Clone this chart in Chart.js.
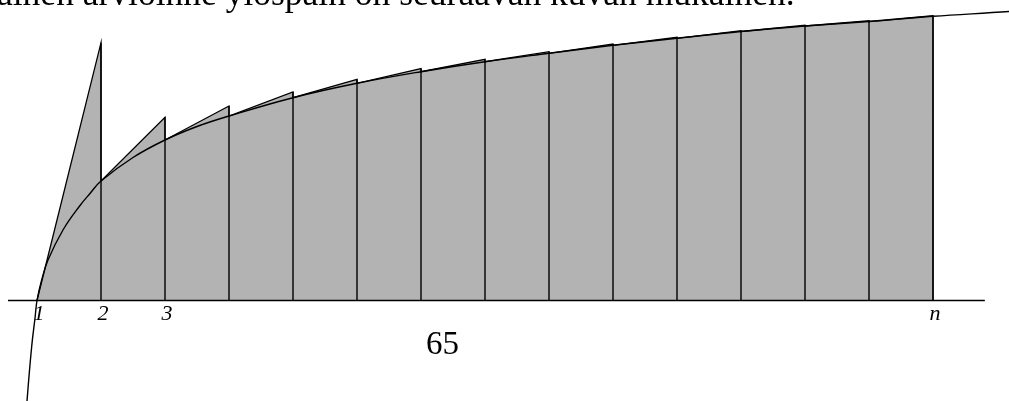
<!DOCTYPE html>
<html>
<head>
<meta charset="utf-8">
<script src="https://cdn.jsdelivr.net/npm/chart.js@4"></script>
<style>
  html, body { margin: 0; padding: 0; background: #fff; overflow: hidden; }
  #wrap { position: relative; width: 1009px; height: 401px; }
  .txt { position: absolute; font-family: "Liberation Serif", serif; color: #000; white-space: nowrap; line-height: 1; }
  #head { left: -3px; top: -24px; font-size: 35.5px; }
  #page { left: 426px; top: 327px; font-size: 33px; }
</style>
</head>
<body>
<div id="wrap">
  <canvas id="chart" width="1009" height="401"></canvas>
  <div id="head" class="txt">ainen arvioinne ylöspäin on seuraavan kuvan mukainen.</div>
  <div id="page" class="txt">65</div>
</div>
<script>
// Upper estimate of the area under a log-like curve: on each [k, k+1] the
// tangent at k is followed up to k+1, so every strip sits above the curve.

// integer nodes 1..n (n = 15)
const nodes = [1, 2, 3, 4, 5, 6, 7, 8, 9, 10, 11, 12, 13, 14, 15]
// curve height at each node
const curveAtNode = [0, 1.195, 1.605, 1.845, 2.028, 2.172, 2.288, 2.388, 2.472, 2.552, 2.622, 2.69, 2.745, 2.79, 2.842]
// tangent line end height at the right end of each strip (nodes 2..15)
const tangentEnd = [2.578, 1.832, 1.945, 2.085, 2.212, 2.32, 2.412, 2.488, 2.565, 2.632, 2.697, 2.752, 2.797, 2.847]

// extra curve points (below the axis, between nodes, past n)
const curveExtraX = [0.828, 0.844, 0.917, 0.97, 1.073, 1.172, 1.406, 1.672, 1.828, 2.5, 3.5, 16.19, 16.4]
const curveExtraY = [-1.2, -1.005, -0.46, -0.17, 0.205, 0.405, 0.705, 0.95, 1.07, 1.43, 1.74, 2.89, 2.905]

// axis labels
const labelValues = [1, 2, 3, 15]
const labelTexts  = ["1", "2", "3", "n"]

// horizontal axis extent
const axisFrom = 0.547
const axisTo   = 15.81

// gray strips: up the tangent, then down to the curve at the next node
const strips = [{ x: nodes[0], y: 0 }]
for (let i = 1; i < nodes.length; i++) {
  strips.push({ x: nodes[i], y: tangentEnd[i - 1] })
  if (i < nodes.length - 1) strips.push({ x: nodes[i], y: curveAtNode[i] })
}
strips.push({ x: nodes[nodes.length - 1], y: 0 })

// vertical edges of the strips
const verticals = []
for (let i = 1; i < nodes.length; i++) {
  verticals.push({ x: nodes[i], y: 0 }, { x: nodes[i], y: tangentEnd[i - 1] }, { x: nodes[i], y: null })
}

// curve through all read points
const curve = nodes.map((x, i) => ({ x, y: curveAtNode[i] }))
  .concat(curveExtraX.map((x, i) => ({ x, y: curveExtraY[i] })))
  .sort((a, b) => a.x - b.x)

const axisLine = [{ x: axisFrom, y: 0 }, { x: axisTo, y: 0 }]

const axisLabels = {
  id: "axisLabels",
  afterDraw(chart) {
    const { ctx, scales } = chart
    ctx.save()
    ctx.fillStyle = "#000"
    ctx.font = "italic 22px 'Liberation Serif', serif"
    ctx.textAlign = "center"
    ctx.textBaseline = "alphabetic"
    const base = scales.y.getPixelForValue(0) + 19
    labelValues.forEach((v, i) => {
      ctx.fillText(labelTexts[i], scales.x.getPixelForValue(v) + 2, base)
    })
    ctx.restore()
  }
}

new Chart(document.getElementById("chart"), {
  type: "line",
  data: {
    datasets: [
      {
        data: curve,
        borderColor: "#000",
        borderWidth: 1.4,
        tension: 0.4,
        fill: false,
        order: 0,
      },
      {
        data: axisLine,
        borderColor: "#000",
        borderWidth: 1.5,
        fill: false,
        order: 0,
      },
      {
        data: verticals,
        borderColor: "#000",
        borderWidth: 1.4,
        spanGaps: false,
        fill: false,
        order: 1,
      },
      {
        data: strips,
        borderColor: "#000",
        borderWidth: 1.3,
        backgroundColor: "#b3b3b3",
        fill: "origin",
        order: 2,
      }
    ]
  },
  options: {
    responsive: false,
    animation: false,
    layout: { padding: 0 },
    elements: { point: { radius: 0, hoverRadius: 0 }, line: { tension: 0 } },
    plugins: { legend: { display: false }, tooltip: { enabled: false } },
    events: [],
    scales: {
      x: { type: "linear", display: false, min: 0.421875, max: 16.1875 },
      y: { type: "linear", display: false, min: -1.005, max: 3.005 }
    }
  },
  plugins: [axisLabels]
})
</script>
</body>
</html>
